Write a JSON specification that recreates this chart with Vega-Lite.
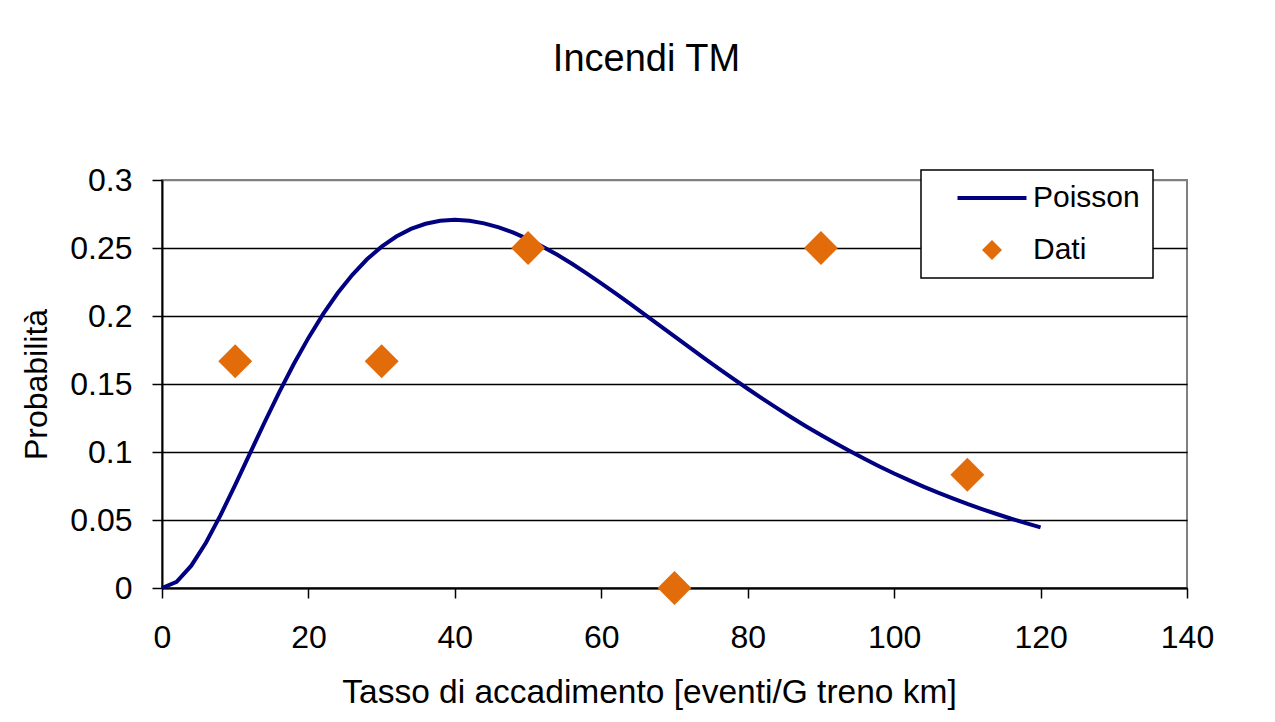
{
  "$schema": "https://vega.github.io/schema/vega-lite/v6.json",
  "width": 1025,
  "height": 408,
  "autosize": {"type": "none"},
  "padding": {"left": 162, "top": 180, "right": 88, "bottom": 134},
  "background": "white",
  "title": {
    "text": "Incendi TM",
    "fontSize": 38,
    "font": "Liberation Sans",
    "fontWeight": "normal",
    "color": "black",
    "anchor": "middle",
    "dx": -28,
    "offset": 85
  },
  "data": {
    "values": [
      {"x": 0, "y": 0, "serie": "Poisson"},
      {"x": 2, "y": 0.0045, "serie": "Poisson"},
      {"x": 4, "y": 0.0164, "serie": "Poisson"},
      {"x": 6, "y": 0.0333, "serie": "Poisson"},
      {"x": 8, "y": 0.0536, "serie": "Poisson"},
      {"x": 10, "y": 0.0758, "serie": "Poisson"},
      {"x": 12, "y": 0.0988, "serie": "Poisson"},
      {"x": 14, "y": 0.1217, "serie": "Poisson"},
      {"x": 16, "y": 0.1438, "serie": "Poisson"},
      {"x": 18, "y": 0.1647, "serie": "Poisson"},
      {"x": 20, "y": 0.1839, "serie": "Poisson"},
      {"x": 22, "y": 0.2014, "serie": "Poisson"},
      {"x": 24, "y": 0.2169, "serie": "Poisson"},
      {"x": 26, "y": 0.2303, "serie": "Poisson"},
      {"x": 28, "y": 0.2417, "serie": "Poisson"},
      {"x": 30, "y": 0.2510, "serie": "Poisson"},
      {"x": 32, "y": 0.2584, "serie": "Poisson"},
      {"x": 34, "y": 0.2640, "serie": "Poisson"},
      {"x": 36, "y": 0.2678, "serie": "Poisson"},
      {"x": 38, "y": 0.2700, "serie": "Poisson"},
      {"x": 40, "y": 0.2707, "serie": "Poisson"},
      {"x": 42, "y": 0.2700, "serie": "Poisson"},
      {"x": 44, "y": 0.2681, "serie": "Poisson"},
      {"x": 46, "y": 0.2652, "serie": "Poisson"},
      {"x": 48, "y": 0.2613, "serie": "Poisson"},
      {"x": 50, "y": 0.2565, "serie": "Poisson"},
      {"x": 52, "y": 0.2510, "serie": "Poisson"},
      {"x": 54, "y": 0.2450, "serie": "Poisson"},
      {"x": 56, "y": 0.2384, "serie": "Poisson"},
      {"x": 58, "y": 0.2314, "serie": "Poisson"},
      {"x": 60, "y": 0.2240, "serie": "Poisson"},
      {"x": 62, "y": 0.2165, "serie": "Poisson"},
      {"x": 64, "y": 0.2087, "serie": "Poisson"},
      {"x": 66, "y": 0.2008, "serie": "Poisson"},
      {"x": 68, "y": 0.1929, "serie": "Poisson"},
      {"x": 70, "y": 0.1850, "serie": "Poisson"},
      {"x": 72, "y": 0.1771, "serie": "Poisson"},
      {"x": 74, "y": 0.1692, "serie": "Poisson"},
      {"x": 76, "y": 0.1615, "serie": "Poisson"},
      {"x": 78, "y": 0.1539, "serie": "Poisson"},
      {"x": 80, "y": 0.1465, "serie": "Poisson"},
      {"x": 82, "y": 0.1393, "serie": "Poisson"},
      {"x": 84, "y": 0.1323, "serie": "Poisson"},
      {"x": 86, "y": 0.1254, "serie": "Poisson"},
      {"x": 88, "y": 0.1188, "serie": "Poisson"},
      {"x": 90, "y": 0.1125, "serie": "Poisson"},
      {"x": 92, "y": 0.1064, "serie": "Poisson"},
      {"x": 94, "y": 0.1005, "serie": "Poisson"},
      {"x": 96, "y": 0.0948, "serie": "Poisson"},
      {"x": 98, "y": 0.0894, "serie": "Poisson"},
      {"x": 100, "y": 0.0842, "serie": "Poisson"},
      {"x": 102, "y": 0.0793, "serie": "Poisson"},
      {"x": 104, "y": 0.0746, "serie": "Poisson"},
      {"x": 106, "y": 0.0701, "serie": "Poisson"},
      {"x": 108, "y": 0.0659, "serie": "Poisson"},
      {"x": 110, "y": 0.0618, "serie": "Poisson"},
      {"x": 112, "y": 0.0580, "serie": "Poisson"},
      {"x": 114, "y": 0.0544, "serie": "Poisson"},
      {"x": 116, "y": 0.0509, "serie": "Poisson"},
      {"x": 118, "y": 0.0477, "serie": "Poisson"},
      {"x": 120, "y": 0.0446, "serie": "Poisson"},
      {"x": 10, "y": 0.1667, "serie": "Dati"},
      {"x": 30, "y": 0.1667, "serie": "Dati"},
      {"x": 50, "y": 0.25, "serie": "Dati"},
      {"x": 70, "y": 0, "serie": "Dati"},
      {"x": 90, "y": 0.25, "serie": "Dati"},
      {"x": 110, "y": 0.0833, "serie": "Dati"}
    ]
  },
  "encoding": {
    "x": {
      "field": "x",
      "type": "quantitative",
      "scale": {"domain": [0, 140], "nice": false, "zero": false},
      "axis": {
        "title": "Tasso di accadimento [eventi/G treno km]",
        "values": [0, 20, 40, 60, 80, 100, 120, 140],
        "format": "d",
        "labelOverlap": false,
        "labelFlush": false,
        "grid": false,
        "labelFontSize": 32,
        "labelPadding": 24,
        "titleFontSize": 33.5,
        "titlePadding": 23,
        "titleX": 487
      }
    },
    "y": {
      "field": "y",
      "type": "quantitative",
      "scale": {"domain": [0, 0.3], "nice": false},
      "axis": {
        "title": "Probabilità",
        "values": [0, 0.05, 0.1, 0.15, 0.2, 0.25, 0.3],
        "format": "~g",
        "labelOverlap": false,
        "grid": true,
        "gridColor": {"condition": {"test": "datum.value >= 0.299", "value": "#808080"}, "value": "#000000"},
        "gridWidth": 1.5,
        "labelFontSize": 32,
        "labelPadding": 20,
        "titleFontSize": 32,
        "titlePadding": 16
      }
    },
    "color": {
      "field": "serie",
      "type": "nominal",
      "scale": {"domain": ["Poisson", "Dati"], "range": ["#000080", "#E36C0A"]},
      "legend": {
        "title": null,
        "orient": "none",
        "legendX": 759,
        "legendY": -10,
        "padding": 13,
        "strokeColor": "#000000",
        "fillColor": "#ffffff",
        "symbolSize": 400,
        "symbolOffset": 43,
        "labelOffset": 26,
        "rowPadding": 22,
        "labelFontSize": 30,
        "labelFont": "Liberation Sans",
        "labelColor": "#000000",
        "encode": {
          "symbols": {
            "update": {
              "shape": {"signal": "datum.value === 'Poisson' ? 'stroke' : 'diamond'"},
              "size": {"signal": "datum.value === 'Poisson' ? 4761 : 400"},
              "fill": {"signal": "datum.value === 'Poisson' ? 'transparent' : '#E36C0A'"},
              "stroke": {"signal": "datum.value === 'Poisson' ? '#000080' : 'transparent'"},
              "strokeWidth": {"signal": "datum.value === 'Poisson' ? 4 : 0"},
              "opacity": {"value": 1}
            }
          },
          "legend": {"update": {"strokeWidth": {"value": 1.5}}}
        }
      }
    }
  },
  "layer": [
    {
      "transform": [{"filter": "datum.serie === 'Poisson'"}],
      "mark": {"type": "line", "strokeWidth": 4}
    },
    {
      "transform": [{"filter": "datum.serie === 'Dati'"}],
      "mark": {"type": "point", "shape": "diamond", "filled": true, "size": 1150, "opacity": 1}
    }
  ],
  "config": {
    "font": "Liberation Sans",
    "view": {"stroke": "#808080", "strokeWidth": 2},
    "axis": {
      "domainColor": "#000000",
      "domainWidth": 2,
      "tickColor": "#000000",
      "tickWidth": 1.5,
      "tickSize": 10,
      "labelColor": "#000000",
      "labelFont": "Liberation Sans",
      "titleColor": "#000000",
      "titleFont": "Liberation Sans",
      "titleFontWeight": "normal"
    }
  }
}
